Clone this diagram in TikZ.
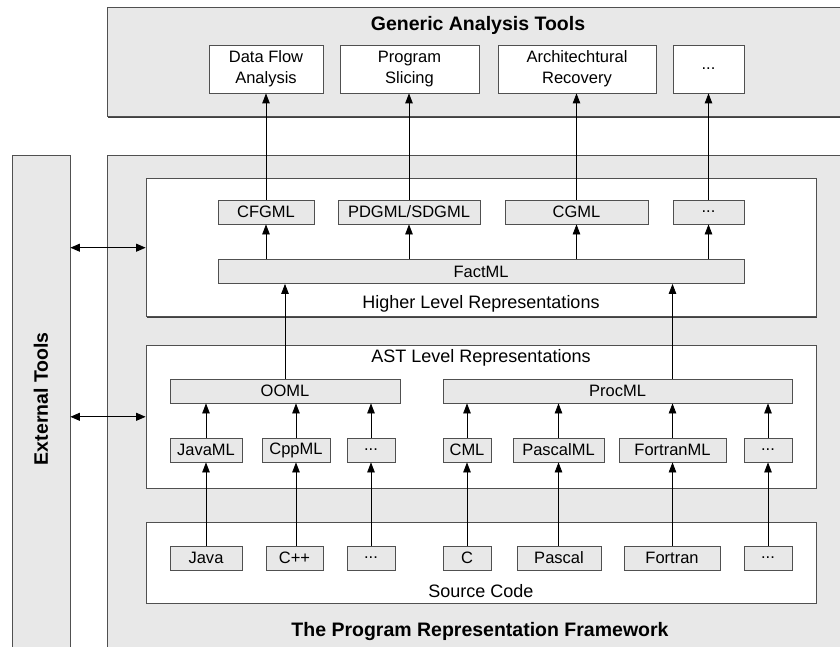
\documentclass[tikz,border=0pt]{standalone}
\usepackage{fontspec}
\setmainfont{Liberation Sans}
\usetikzlibrary{arrows.meta,shadows,calc}
\definecolor{boxgray}{HTML}{E8E8E8}
\definecolor{edgegray}{HTML}{505050}
\tikzset{
  shadowed/.style={general shadow={shadow xshift=0.9pt, shadow yshift=-0.9pt, fill=black!75}},
  outerbox/.style={draw=edgegray, line width=0.8pt, fill=boxgray, shadowed, inner sep=0pt},
  whitebox/.style={draw=edgegray, line width=0.8pt, fill=white, shadowed, inner sep=0pt},
  graybox/.style={draw=edgegray, line width=0.8pt, fill=boxgray, shadowed, inner sep=0pt, minimum height=24pt, font=\fontsize{16.5}{20.7}\selectfont},
  toolbox/.style={draw=edgegray, line width=0.8pt, fill=white, shadowed, inner sep=0pt, minimum height=48pt, align=center, font=\fontsize{16.5}{20.7}\selectfont},
  lbl/.style={inner sep=0pt, font=\fontsize{18}{22}\selectfont},
  ttl/.style={inner sep=0pt, font=\fontsize{19.5}{23}\selectfont\bfseries},
  arr/.style={draw=black, line width=0.8pt, -{Triangle[length=10pt,width=7.5pt]}},
  darr/.style={draw=black, line width=0.8pt, {Triangle[length=9.5pt,width=8pt]}-{Triangle[length=9.5pt,width=8pt]}}
}
\begin{document}
\begin{tikzpicture}[x=1pt,y=-1pt]
\useasboundingbox (0,0) rectangle (840,647);
\clip (0,0) rectangle (840,647);
\fill[white] (0,0) rectangle (840,647);

% outer containers
\node[outerbox, minimum width=742.5pt, minimum height=109.4pt] (generic) at (478.75,62) {};
\node[ttl] (generictitle) at (478,25.7) {Generic Analysis Tools};
\node[outerbox, minimum width=58pt, minimum height=505pt] (ext) at (41,407.5) {};
\node[ttl, rotate=90] (exttitle) at (41,398.7) {External Tools};
\node[outerbox, minimum width=742.5pt, minimum height=505pt] (frame) at (478.75,407.5) {};
\node[ttl] (frametitle) at (480,631) {The Program Representation Framework};

% layer boxes
\node[whitebox, minimum width=670pt, minimum height=138pt] (hl) at (481,247.7) {};
\node[lbl] (hllabel) at (481,304) {Higher Level Representations};
\node[whitebox, minimum width=670pt, minimum height=143pt] (ast) at (481,416.8) {};
\node[lbl] (astlabel) at (481,357.7) {AST Level Representations};
\node[whitebox, minimum width=670pt, minimum height=81pt] (src) at (481,562.5) {};
\node[lbl] (srclabel) at (481,591) {Source Code};

% tools
\node[toolbox, minimum width=114pt] (dataflow) at (266,69) {Data Flow\\Analysis};
\node[toolbox, minimum width=139pt] (slicing) at (409.5,69) {Program\\Slicing};
\node[toolbox, minimum width=158pt] (arch) at (577,69) {Architechtural\\Recovery};
\node[toolbox, minimum width=71pt] (tooldots) at (708.5,69) {...};

% higher level
\node[graybox, minimum width=96pt] (cfgml) at (266,212) {CFGML};
\node[graybox, minimum width=142pt] (pdgml) at (409,212) {PDGML/SDGML};
\node[graybox, minimum width=143pt] (cgml) at (576.5,212) {CGML};
\node[graybox, minimum width=71pt] (hldots) at (708.5,212) {...};
\node[graybox, minimum width=526pt] (factml) at (481,271.5) {FactML};

% AST level
\node[graybox, minimum width=230pt] (ooml) at (285,391) {OOML};
\node[graybox, minimum width=349pt] (procml) at (617.5,391) {ProcML};
\node[graybox, minimum width=72pt] (javaml) at (206,450) {JavaML};
\node[graybox, minimum width=68pt] (cppml) at (296,450) {CppML};
\node[graybox, minimum width=48pt] (oodots) at (371,450) {...};
\node[graybox, minimum width=48pt] (cml) at (467,450) {CML};
\node[graybox, minimum width=91pt] (pascalml) at (558.5,450) {PascalML};
\node[graybox, minimum width=107pt] (fortranml) at (672.5,450) {FortranML};
\node[graybox, minimum width=48pt] (procdots) at (768,450) {...};

% source
\node[graybox, minimum width=72pt] (java) at (206,558) {Java};
\node[graybox, minimum width=57pt] (cpp) at (294.5,558) {C++};
\node[graybox, minimum width=48pt] (srcdots1) at (371,558) {...};
\node[graybox, minimum width=48pt] (c) at (467,558) {C};
\node[graybox, minimum width=84pt] (pascal) at (559,558) {Pascal};
\node[graybox, minimum width=96pt] (fortran) at (672,558) {Fortran};
\node[graybox, minimum width=48pt] (srcdots2) at (768,558) {...};

% source -> ML
\draw[arr] (java.north) -- (java.north |- javaml.south);
\draw[arr] (cppml.south |- cpp.north) -- (cppml.south);
\draw[arr] (srcdots1.north) -- (srcdots1.north |- oodots.south);
\draw[arr] (c.north) -- (c.north |- cml.south);
\draw[arr] (pascalml.south |- pascal.north) -- (pascalml.south);
\draw[arr] (fortranml.south |- fortran.north) -- (fortranml.south);
\draw[arr] (srcdots2.north) -- (srcdots2.north |- procdots.south);

% ML -> OOML / ProcML
\draw[arr] (javaml.north) -- (javaml.north |- ooml.south);
\draw[arr] (cppml.north) -- (cppml.north |- ooml.south);
\draw[arr] (oodots.north) -- (oodots.north |- ooml.south);
\draw[arr] (cml.north) -- (cml.north |- procml.south);
\draw[arr] (pascalml.north) -- (pascalml.north |- procml.south);
\draw[arr] (fortranml.north) -- (fortranml.north |- procml.south);
\draw[arr] (procdots.north) -- (procdots.north |- procml.south);

% OOML / ProcML -> FactML
\draw[arr] (ooml.north) -- (ooml.north |- factml.south);
\draw[arr] (fortranml.north |- procml.north) -- (fortranml.north |- factml.south);

% FactML -> higher level
\draw[arr] (cfgml.south |- factml.north) -- (cfgml.south);
\draw[arr] (pdgml.south |- factml.north) -- (pdgml.south);
\draw[arr] (cgml.south |- factml.north) -- (cgml.south);
\draw[arr] (hldots.south |- factml.north) -- (hldots.south);

% higher level -> tools
\draw[arr] (cfgml.north) -- (cfgml.north |- dataflow.south);
\draw[arr] (pdgml.north) -- (pdgml.north |- slicing.south);
\draw[arr] (cgml.north) -- (cgml.north |- arch.south);
\draw[arr] (hldots.north) -- (hldots.north |- tooldots.south);

% external tools
\draw[darr] (hl.west -| ext.east) -- (hl.west);
\draw[darr] (ast.west -| ext.east) -- (ast.west);
\end{tikzpicture}
\end{document}
